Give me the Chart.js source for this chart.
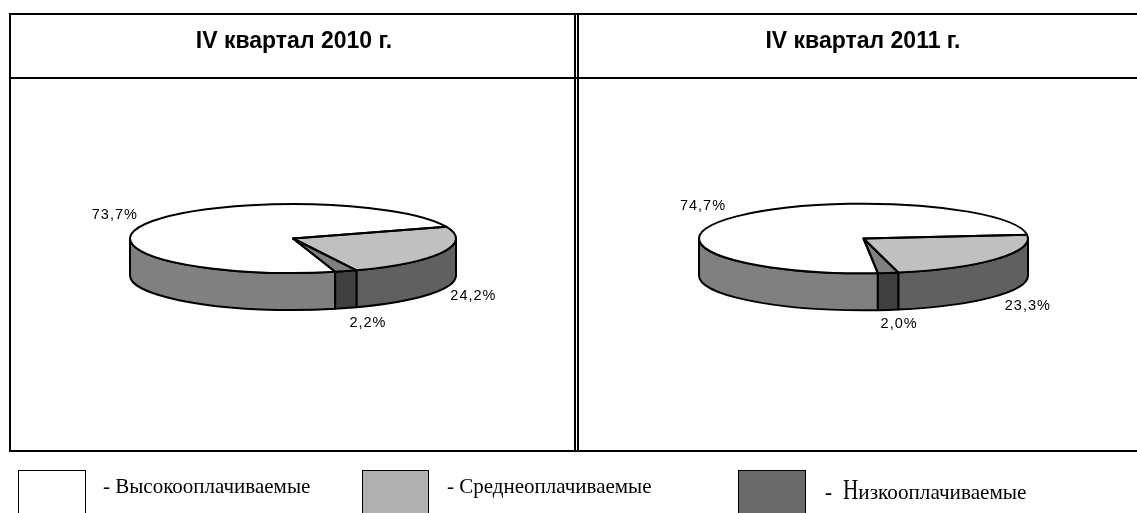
<!DOCTYPE html>
<html>
<head>
<meta charset="utf-8">
<script src="https://cdn.jsdelivr.net/npm/chart.js@4"></script>
<style>
  html, body { margin: 0; padding: 0; background: #fff; width: 1137px; height: 513px; overflow: hidden; position: relative; }
  canvas { position: absolute; top: 0; }
  .line { position: absolute; background: #000; }
  .title { position: absolute; top: 27px; width: 400px; text-align: center; font: bold 23px "Liberation Sans", Arial, sans-serif; color: #000; }
  .swatch { position: absolute; top: 470px; height: 60px; border: 1px solid #000; box-sizing: border-box; }
  .legend-text { position: absolute; white-space: nowrap; color: #000; font-family: "Liberation Serif", "Times New Roman", serif; }
  .big { display: inline-block; width: 15px; margin-left: 6px; font-size: 29px; transform: scaleX(0.73); transform-origin: left; }
</style>
</head>
<body>
<div class="line" style="left:9px;top:13px;width:1128px;height:2px"></div>
<div class="line" style="left:9px;top:77px;width:1128px;height:2px"></div>
<div class="line" style="left:9px;top:450px;width:1128px;height:2px"></div>
<div class="line" style="left:9px;top:13px;width:2px;height:439px"></div>
<div class="line" style="left:574px;top:13px;width:2px;height:439px"></div>
<div class="line" style="left:577px;top:13px;width:2px;height:439px"></div>

<canvas id="pie2010" width="576" height="477" style="left:5px"></canvas>
<canvas id="pie2011" width="577" height="477" style="left:575px"></canvas>

<div class="title" style="left:94px">IV квартал 2010 г.</div>
<div class="title" style="left:663px">IV квартал 2011 г.</div>
<div id="legend"></div>

<script>
const categories = ["Высокооплачиваемые", "Среднеоплачиваемые", "Низкооплачиваемые"];
const values2010 = [73.7, 24.2, 2.2];
const values2011 = [74.7, 23.3, 2.0];

const topColors = ["#ffffff", "#c0c0c0", "#808080"];
const sideColors = ["#808080", "#606060", "#404040"];
const legendColors = ["#ffffff", "#b0b0b0", "#6a6a6a"];

const squash = 0.2117;
const depth = 37;

// draws the walls under the flat pie, then squashes the pie itself
const tiltPlugin = {
  id: "tilt",
  beforeDatasetsDraw(chart) {
    const ctx = chart.ctx;
    const arcs = chart.getDatasetMeta(0).data;
    ctx.save();
    arcs.forEach(function(arc, i) {
      [0, Math.PI * 2].forEach(function(shift) {
        const a = Math.max(arc.startAngle, shift);
        const b = Math.min(arc.endAngle, shift + Math.PI);
        if (b <= a) return;
        ctx.beginPath();
        ctx.ellipse(arc.x, arc.y, arc.outerRadius, arc.outerRadius * squash, 0, a, b);
        ctx.ellipse(arc.x, arc.y + depth, arc.outerRadius, arc.outerRadius * squash, 0, b, a, true);
        ctx.closePath();
        ctx.fillStyle = sideColors[i];
        ctx.fill();
        ctx.strokeStyle = "#000";
        ctx.lineWidth = 2;
        ctx.lineJoin = "round";
        ctx.stroke();
      });
    });
    ctx.restore();
    const first = arcs[0];
    ctx.save();
    ctx.translate(first.x, first.y);
    ctx.scale(1, squash);
    ctx.translate(-first.x, -first.y);
  },
  afterDatasetsDraw(chart) {
    const ctx = chart.ctx;
    ctx.restore();
    const arcs = chart.getDatasetMeta(0).data;
    ctx.save();
    ctx.strokeStyle = "#000";
    ctx.lineWidth = 2;
    ctx.lineJoin = "round";
    arcs.forEach(function(arc) {
      ctx.beginPath();
      ctx.moveTo(arc.x, arc.y);
      ctx.ellipse(arc.x, arc.y, arc.outerRadius, arc.outerRadius * squash, 0, arc.startAngle, arc.endAngle);
      ctx.closePath();
      ctx.stroke();
    });
    // percent labels, placed from each slice's middle angle
    const nudges = chart.options.plugins.tilt.nudges;
    ctx.fillStyle = "#000";
    ctx.font = '14.5px "Liberation Sans", Arial, sans-serif';
    ctx.letterSpacing = "1px";
    ctx.textAlign = "center";
    ctx.textBaseline = "middle";
    arcs.forEach(function(arc, i) {
      const mid = (arc.startAngle + arc.endAngle) / 2;
      const x = arc.x + Math.cos(mid) * arc.outerRadius + nudges[i][0];
      const y = arc.y + Math.sin(mid) * arc.outerRadius * squash + nudges[i][1];
      const text = chart.data.datasets[0].data[i].toFixed(1).replace(".", ",") + "%";
      ctx.fillText(text, x, y);
    });
    ctx.restore();
  }
};

function makePie(id, values, rotation, radius, nudges) {
  return new Chart(document.getElementById(id), {
    type: "pie",
    data: {
      labels: categories,
      datasets: [{
        data: values,
        backgroundColor: topColors,
        borderWidth: 0
      }]
    },
    options: {
      responsive: false,
      animation: false,
      rotation: rotation,
      radius: radius,
      layout: { padding: 0 },
      events: [],
      plugins: {
        legend: { display: false },
        tooltip: { enabled: false },
        title: { display: false },
        tilt: { nudges: nudges }
      }
    },
    plugins: [tiltPlugin]
  });
}

makePie("pie2010", values2010, 165, 163, [[-33.6, -7.5], [31, 44], [22, 52]]);
makePie("pie2011", values2011, 175, 164.5, [[-33.5, -10.5], [31, 47], [11, 51]]);

// legend under the table
const legendBox = document.getElementById("legend");
const swatchX = [18, 362, 738];
const swatchW = [68, 67, 68];
const textX = [103, 447, 825];
const textTop = [474, 474, 473];
const textSize = [21, 21, 21.2];
categories.forEach(function(name, i) {
  const s = document.createElement("div");
  s.className = "swatch";
  s.style.left = swatchX[i] + "px";
  s.style.width = swatchW[i] + "px";
  s.style.background = legendColors[i];
  legendBox.appendChild(s);
  const t = document.createElement("div");
  t.className = "legend-text";
  t.style.left = textX[i] + "px";
  t.style.top = textTop[i] + "px";
  t.style.fontSize = textSize[i] + "px";
  if (i == 2) {
    t.innerHTML = "<b>-</b> <span class='big'>" + name[0] + "</span>" + name.slice(1);
  } else {
    t.textContent = "- " + name;
  }
  legendBox.appendChild(t);
});
</script>
</body>
</html>
